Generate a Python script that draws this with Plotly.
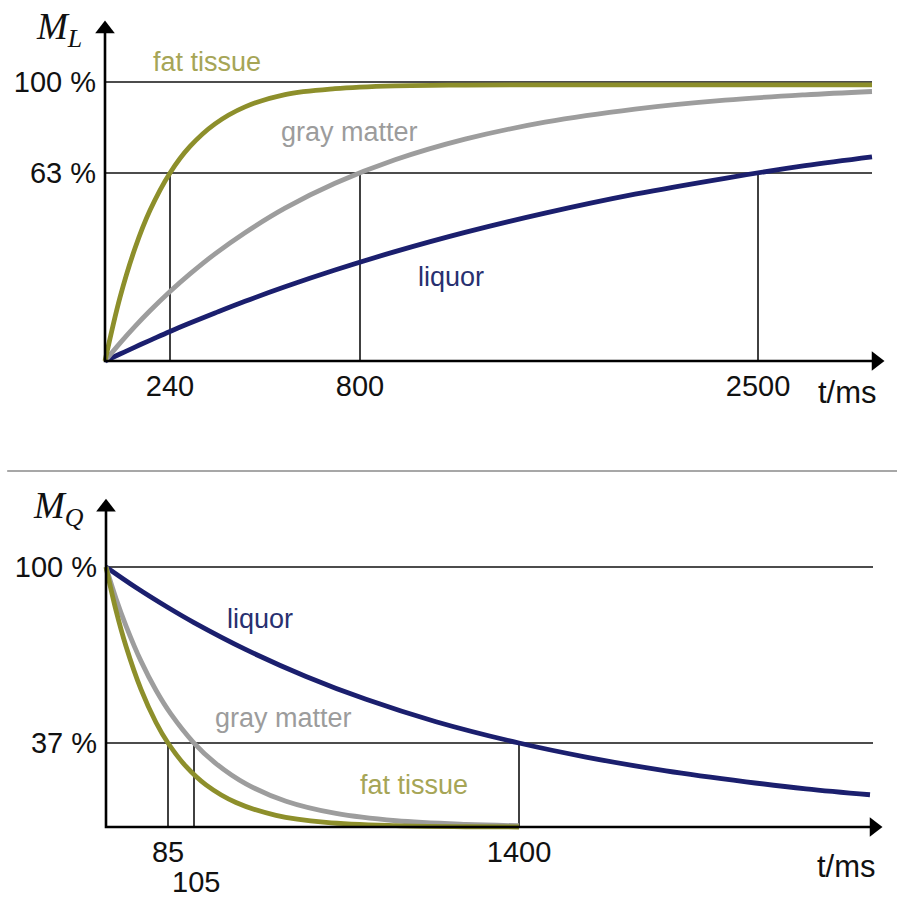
import plotly.graph_objects as go

W, H = 897, 903

# ---------------- data (schematic units) ----------------
# top panel: longitudinal magnetisation M_L (% of full value) vs time (schematic axis units)
top_t = [0, 15, 30, 45, 65, 85, 110, 140, 180, 230, 290, 360, 440, 530, 620, 700, 767]
top_fat = [0, 22.8, 40.4, 54.0, 67.4, 76.9, 85.0, 91.1, 95.5, 97.6, 98.6, 98.9, 99.0, 99.0, 99.0, 99.0, 99.0]
top_gray = [0, 6.4, 12.4, 18.0, 24.9, 31.2, 38.4, 46.0, 54.8, 63.7, 72.1, 79.5, 85.6, 90.3, 93.5, 95.4, 96.6]
top_liquor = [0, 2.5, 5.0, 7.4, 10.6, 13.6, 17.2, 21.4, 26.6, 32.6, 39.2, 46.1, 53.0, 59.8, 65.5, 70.0, 73.2]
top_levels = [100, 67.4]
top_level_labels = ["100 %", "63 %"]
top_times = [65, 255, 653]
top_time_labels = ["240", "800", "2500"]

# bottom panel: transverse magnetisation M_Q
bot_liquor_t = [0, 30, 62, 88, 140, 200, 260, 330, 413, 480, 560, 640, 700, 764]
bot_liquor = [100, 92.1, 84.4, 78.6, 68.2, 57.9, 49.1, 40.5, 32.3, 26.9, 21.6, 17.4, 14.7, 12.4]
bot_gray_t = [0, 10, 20, 35, 50, 65, 88, 110, 140, 180, 230, 290, 360, 413]
bot_gray = [100, 87.9, 77.4, 63.8, 52.6, 43.4, 32.3, 24.4, 16.6, 9.9, 5.2, 2.4, 1.0, 0.5]
bot_fat_t = [0, 10, 20, 35, 50, 62, 80, 100, 130, 170, 220, 290, 360, 413]
bot_fat = [100, 83.3, 69.5, 52.9, 40.2, 32.3, 23.3, 16.2, 9.4, 4.5, 1.8, 0.5, 0.1, 0.0]
bot_levels = [100, 32.3]
bot_level_labels = ["100 %", "37 %"]
bot_times = [62, 88, 413]
bot_time_labels = ["85", "", "1400"]
bot_lower_time = 88
bot_lower_label = "105"

line_end = 767
# axis arrow head centres (axis units)
top_x_head, top_y_head = 771, 119.0
bot_x_head, bot_y_head = 768, 123.0

FAT = "#8d8f2b"
GRAY = "#9d9d9d"
NAVY = "#1b1f6e"
FAT_TXT = "#a6a556"
GRAY_TXT = "#9c9c9c"
NAVY_TXT = "#283070"
FONT = "Liberation Sans, Arial, sans-serif"

fig = go.Figure()


def ref_lines(xa, ya, levels, times, crossings):
    for lv in levels:
        fig.add_trace(go.Scatter(x=[0, line_end], y=[lv, lv], mode="lines",
                                 line=dict(color="#111111", width=1.6),
                                 xaxis=xa, yaxis=ya, hoverinfo="skip", showlegend=False))
    for t, c in zip(times, crossings):
        fig.add_trace(go.Scatter(x=[t, t], y=[0, c], mode="lines",
                                 line=dict(color="#111111", width=1.6),
                                 xaxis=xa, yaxis=ya, hoverinfo="skip", showlegend=False))


def axis_arrows(xa, ya, xh, yh):
    fig.add_trace(go.Scatter(x=[xh, 0, 0], y=[0, 0, yh], mode="lines",
                             line=dict(color="#000000", width=2.6),
                             xaxis=xa, yaxis=ya, hoverinfo="skip", showlegend=False))
    fig.add_trace(go.Scatter(x=[xh, 0], y=[0, yh], mode="markers", cliponaxis=False,
                             marker=dict(symbol=["triangle-right", "triangle-up"], size=17,
                                         color="#000000", line=dict(width=0)),
                             xaxis=xa, yaxis=ya, hoverinfo="skip", showlegend=False))


ref_lines("x", "y", top_levels, top_times, [top_levels[1]] * 3)
ref_lines("x2", "y2", bot_levels, bot_times, [bot_levels[1]] * 3)

for tx, ty, col in [(top_t, top_liquor, NAVY), (top_t, top_gray, GRAY), (top_t, top_fat, FAT)]:
    fig.add_trace(go.Scatter(x=tx, y=ty, mode="lines", line=dict(color=col, width=4.8, shape="spline"),
                             xaxis="x", yaxis="y", hoverinfo="skip", showlegend=False))
for tx, ty, col in [(bot_liquor_t, bot_liquor, NAVY), (bot_gray_t, bot_gray, GRAY), (bot_fat_t, bot_fat, FAT)]:
    fig.add_trace(go.Scatter(x=tx, y=ty, mode="lines", line=dict(color=col, width=4.8, shape="spline"),
                             xaxis="x2", yaxis="y2", hoverinfo="skip", showlegend=False))

axis_arrows("x", "y", top_x_head, top_y_head)
axis_arrows("x2", "y2", bot_x_head, bot_y_head)

ann = []


def label(xr, yr, x, y, text, color, size=27):
    ann.append(dict(x=x, y=y, xref=xr, yref=yr, text=text, showarrow=False,
                    font=dict(family=FONT, size=size, color=color), xanchor="center", yanchor="middle"))


label("x", "y", 102, 107, "fat tissue", FAT_TXT)
label("x", "y", 244, 82, "gray matter", GRAY_TXT)
label("x", "y", 346, 30, "liquor", NAVY_TXT)
label("x2", "y2", 154, 80, "liquor", NAVY_TXT)
label("x2", "y2", 177, 42, "gray matter", GRAY_TXT)
label("x2", "y2", 308, 16, "fat tissue", FAT_TXT)
label("paper", "paper", 847 / W, 1 - 392 / H, "t/ms", "#111111", 31)
label("paper", "paper", 846 / W, 1 - 866 / H, "t/ms", "#111111", 31)
label("x2", "paper", bot_lower_time + 2, 1 - 882 / H, bot_lower_label, "#111111", 29)

ann.append(dict(x=34 / W, y=1 - 30 / H, xref="paper", yref="paper", xanchor="left", yanchor="middle",
                text="<i>M</i><sub><i>L</i></sub>", showarrow=False,
                font=dict(family="Liberation Serif, serif", size=37, color="#111111")))
ann.append(dict(x=31 / W, y=1 - 508 / H, xref="paper", yref="paper", xanchor="left", yanchor="middle",
                text="<i>M</i><sub><i>Q</i></sub>", showarrow=False,
                font=dict(family="Liberation Serif, serif", size=37, color="#111111")))

axis_common = dict(showgrid=False, zeroline=False, showline=False, ticks="", fixedrange=True,
                   tickangle=0, automargin=False,
                   tickfont=dict(family=FONT, size=29, color="#111111"))

fig.update_layout(
    width=W, height=H, margin=dict(l=0, r=0, t=0, b=0),
    paper_bgcolor="white", plot_bgcolor="white", showlegend=False,
    xaxis=dict(domain=[99 / W, 1], range=[-6, 792], anchor="y",
               tickvals=top_times, ticktext=top_time_labels, ticklabelstandoff=1, **axis_common),
    yaxis=dict(domain=[(H - 365.2) / H, 1], range=[-1.5, 129.39], anchor="x",
               tickvals=top_levels, ticktext=top_level_labels, ticklabelstandoff=2, **axis_common),
    xaxis2=dict(domain=[100 / W, 1], range=[-6, 791], anchor="y2",
                tickvals=bot_times, ticktext=bot_time_labels, ticklabelstandoff=1, **axis_common),
    yaxis2=dict(domain=[(H - 830.9) / H, (H - 485) / H], range=[-1.5, 131.54], anchor="x2",
                tickvals=bot_levels, ticktext=bot_level_labels, ticklabelstandoff=2, **axis_common),
    annotations=ann,
    shapes=[dict(type="line", xref="paper", yref="paper", x0=0.008, x1=1, y0=1 - 471 / H, y1=1 - 471 / H,
                 line=dict(color="#8a8a8a", width=1.5))],
)

fig.write_html("out.html", config={"displayModeBar": False},
               post_script="document.body.style.margin='0';document.body.style.overflow='hidden';")
